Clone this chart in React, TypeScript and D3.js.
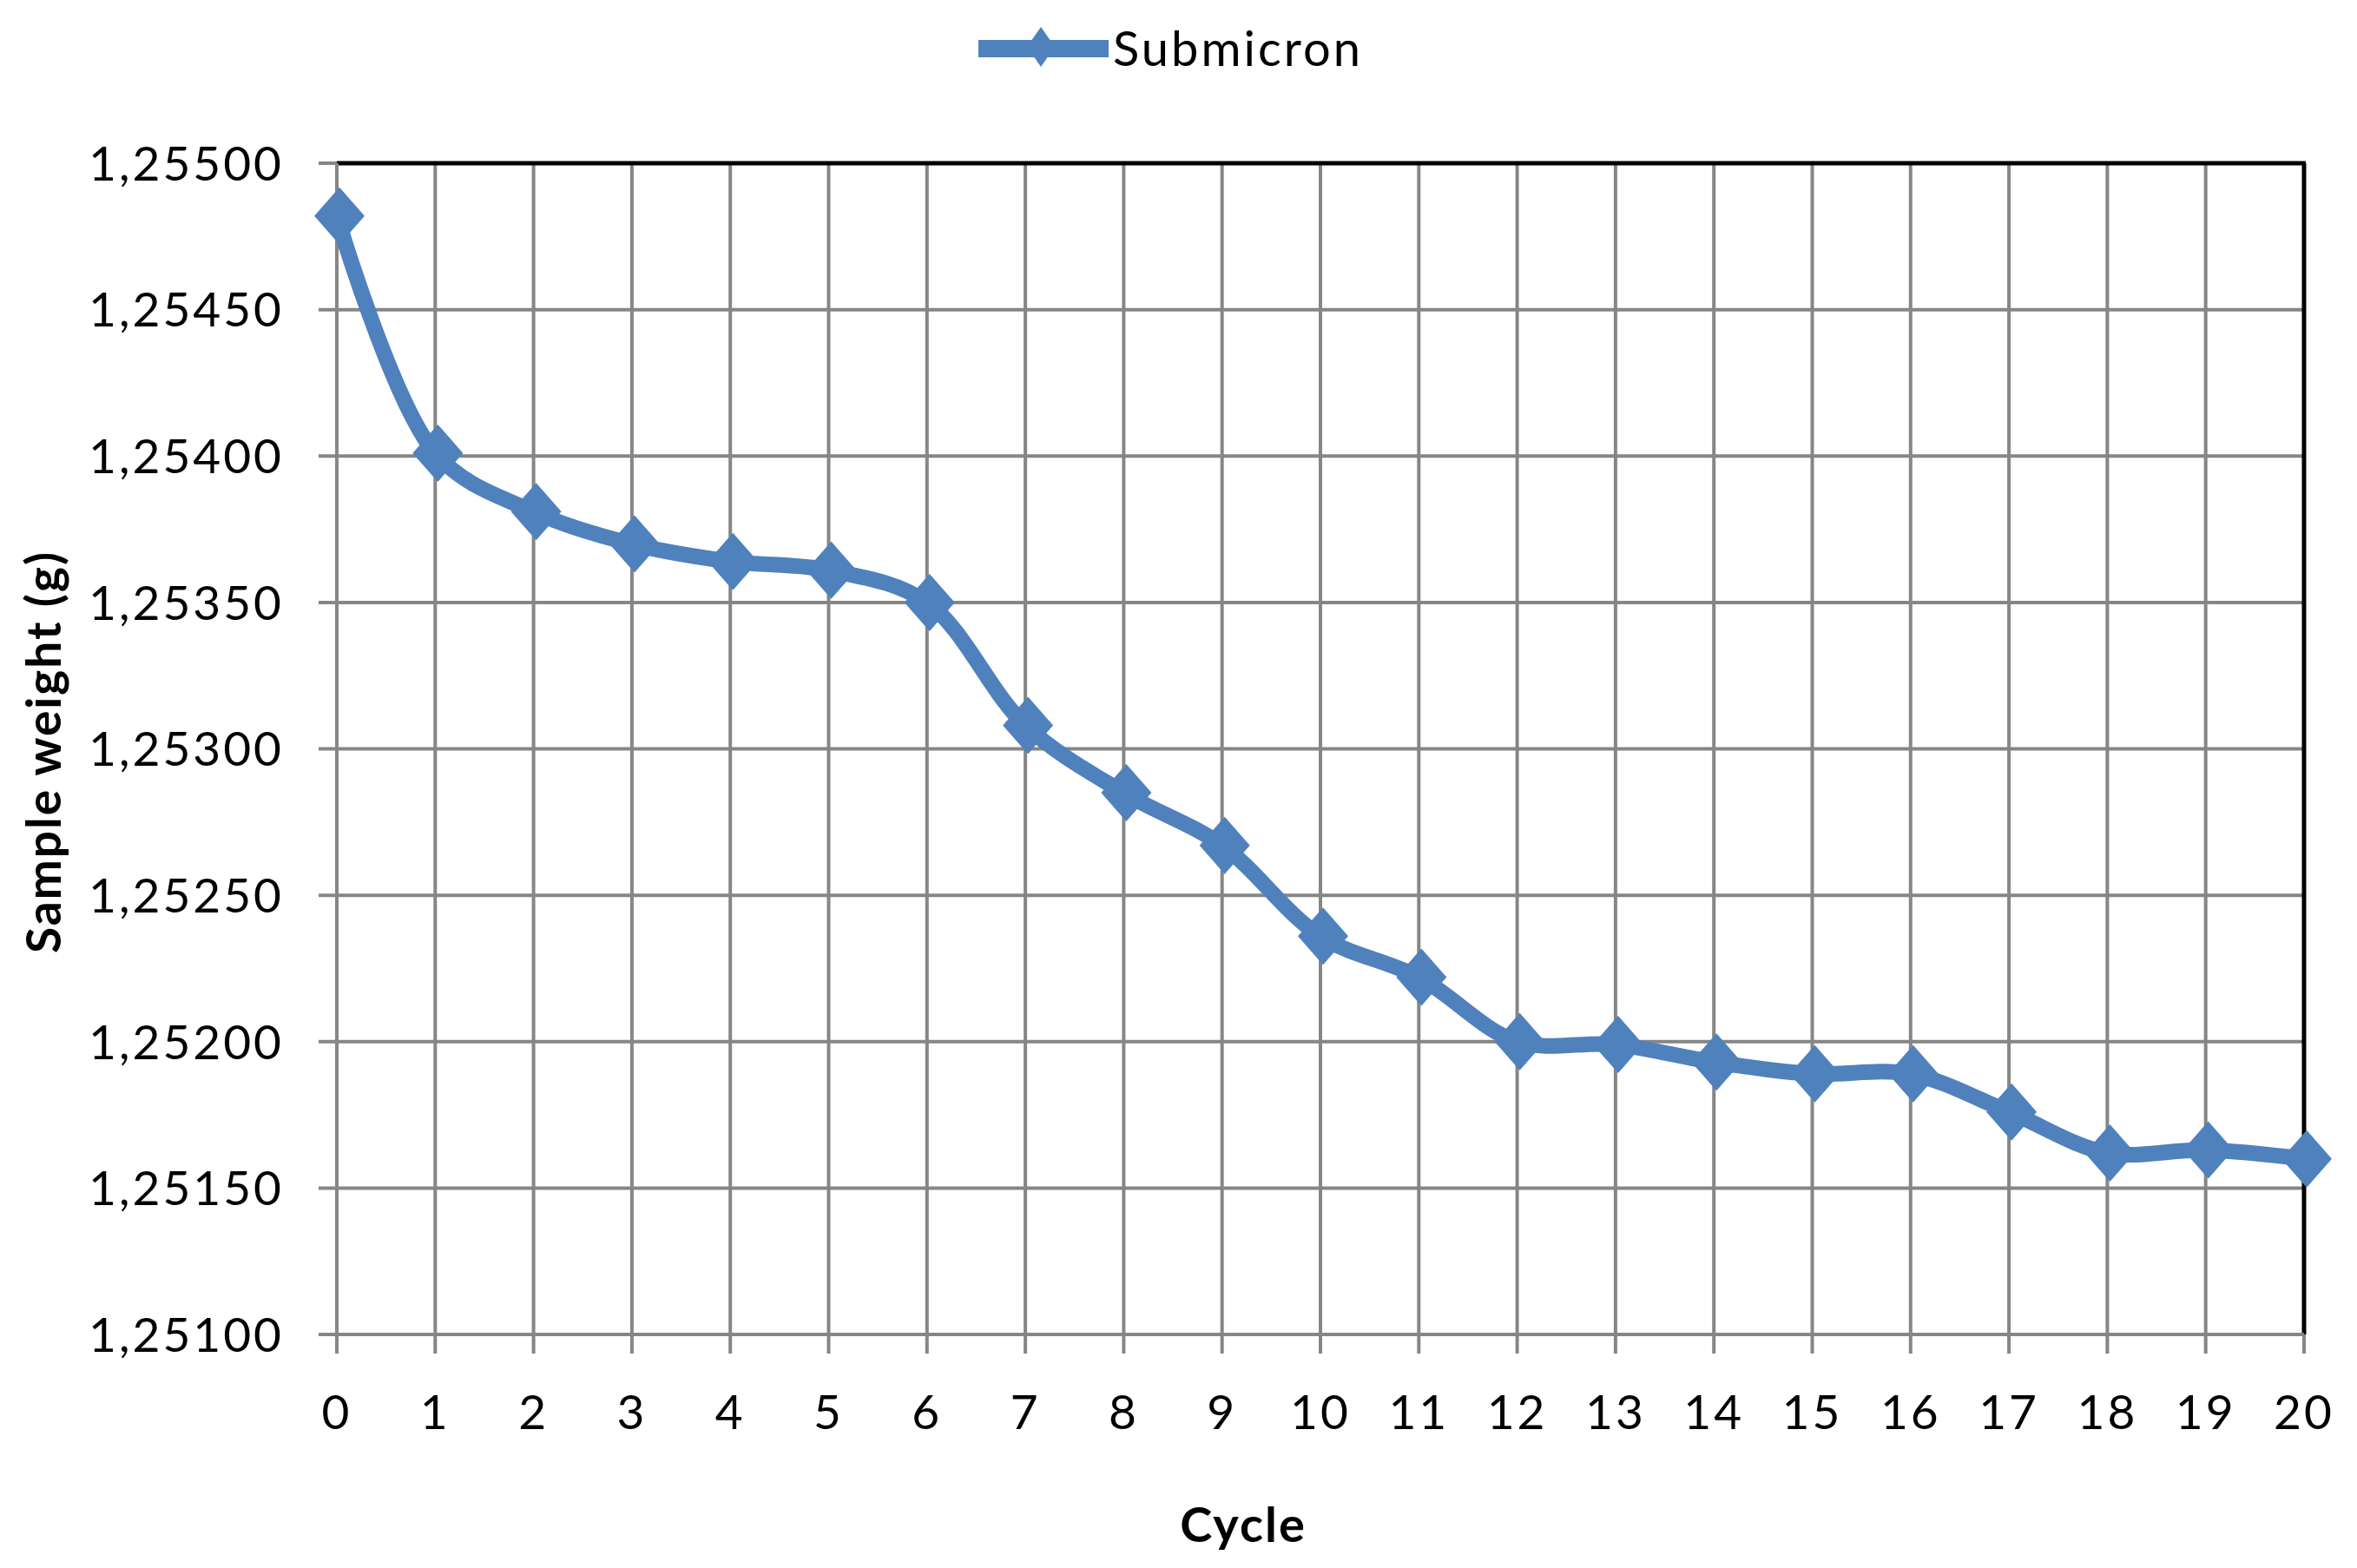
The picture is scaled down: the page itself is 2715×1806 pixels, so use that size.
import React from "react";
import * as d3 from "d3";

const cycles = [0, 1, 2, 3, 4, 5, 6, 7, 8, 9, 10, 11, 12, 13, 14, 15, 16, 17, 18, 19, 20];
const submicron = [
  1.25482, 1.25401, 1.25381, 1.25370, 1.25364, 1.25361, 1.25350, 1.25308, 1.25285, 1.25267,
  1.25236, 1.25222, 1.25200, 1.25199, 1.25193, 1.25189, 1.25189, 1.25176, 1.25162, 1.25163, 1.25160,
];
const yTicks = [1.251, 1.2515, 1.252, 1.2525, 1.253, 1.2535, 1.254, 1.2545, 1.255];
const seriesName = "Submicron";
const xTitle = "Cycle";
const yTitle = "Sample weight (g)";

const W = 2715;
const H = 1806;
const M = { left: 388, right: 2654, top: 188, bottom: 1537 };
const BLUE = "#4F81BD";
const GRID = "#868686";
const FONT = "Lato, 'Open Sans', sans-serif";

function diamond(cx: number, cy: number, hw: number, hh: number) {
  return `M${cx},${cy - hh}L${cx + hw},${cy}L${cx},${cy + hh}L${cx - hw},${cy}Z`;
}

export default function App() {
  const x = d3.scaleLinear().domain([0, 20]).range([M.left, M.right]);
  const y = d3.scaleLinear().domain([1.251, 1.255]).range([M.bottom, M.top]);
  const pts = cycles.map((c, i) => [x(c), y(submicron[i])] as [number, number]);
  const line = d3.line().curve(d3.curveCatmullRom.alpha(0.5))(pts) || "";
  const fmt = (v: number) => d3.format(".5f")(v).replace(".", ",");

  return (
    <div style={{ position: "absolute", left: 0, top: 0 }}>
      <svg width={W} height={H} style={{ display: "block", background: "#fff" }}>
        <rect x={0} y={0} width={W} height={H} fill="#fff" />
        {/* horizontal gridlines */}
        {yTicks.map((t) => (
          <line key={"h" + t} x1={M.left - 21} x2={M.right} y1={y(t)} y2={y(t)} stroke={GRID} strokeWidth={4} />
        ))}
        {/* vertical gridlines */}
        {cycles.map((c) => (
          <line key={"v" + c} x1={x(c)} x2={x(c)} y1={M.top} y2={M.bottom + 22} stroke={GRID} strokeWidth={4} />
        ))}
        {/* plot border top & right */}
        <line x1={M.left} x2={M.right + 2} y1={M.top} y2={M.top} stroke="#000" strokeWidth={5} />
        <line x1={M.right} x2={M.right} y1={M.top} y2={M.bottom} stroke="#000" strokeWidth={5} />
        {/* axes */}
        <line x1={M.left} x2={M.left} y1={M.top} y2={M.bottom + 22} stroke={GRID} strokeWidth={4} />
        <line x1={M.left - 21} x2={M.right} y1={M.bottom} y2={M.bottom} stroke={GRID} strokeWidth={4} />
        {/* y tick labels */}
        {yTicks.map((t) => (
          <text key={"yl" + t} x={327} y={y(t)} dy="0.36em" textAnchor="end" fontFamily={FONT}
            fontSize={55} letterSpacing={3} fill="#000">{fmt(t)}</text>
        ))}
        {/* x tick labels */}
        {cycles.map((c) => (
          <text key={"xl" + c} x={x(c)} y={1646} textAnchor="middle" fontFamily={FONT}
            fontSize={55} letterSpacing={3} fill="#000">{String(c)}</text>
        ))}
        {/* axis titles */}
        <text x={1432} y={1776} textAnchor="middle" fontFamily={FONT} fontWeight="bold" fontSize={56}
          letterSpacing={2} fill="#000">{xTitle}</text>
        <text transform={`translate(70,866) rotate(-90)`} textAnchor="middle" fontFamily={FONT}
          fontWeight="bold" fontSize={55} letterSpacing={2} fill="#000">{yTitle}</text>
        {/* series */}
        <path d={line} fill="none" stroke={BLUE} strokeWidth={18} strokeLinejoin="round" />
        {pts.map(([px, py], i) => (
          <path key={"m" + i} d={diamond(px + 3, py, 29, 33)} fill={BLUE} />
        ))}
        {/* legend */}
        <line x1={1127} x2={1277} y1={56} y2={56} stroke={BLUE} strokeWidth={20} />
        <path d={diamond(1199, 54, 16, 23)} fill={BLUE} />
        <text x={1282} y={76} fontFamily={FONT} fontSize={56} letterSpacing={3} fill="#000">{seriesName}</text>
      </svg>
    </div>
  );
}
